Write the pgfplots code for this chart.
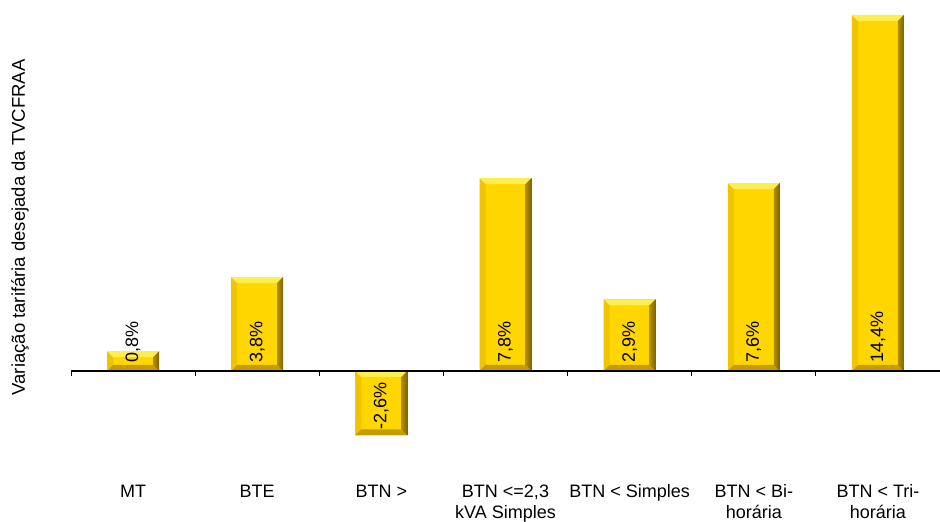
\documentclass[border=0pt]{standalone}
\usepackage{fontspec}
\setmainfont{Liberation Sans}
\usepackage{pgfplots}
\usepackage{pgfplotstable}
\pgfplotsset{compat=1.18}

\definecolor{barface}{RGB}{255,214,0}
\definecolor{bevtop}{RGB}{255,238,80}
\definecolor{bevleft}{RGB}{240,196,0}
\definecolor{bevbot}{RGB}{196,156,0}
\definecolor{bevmid}{RGB}{205,165,0}
\definecolor{bevdark}{RGB}{100,76,0}

\newcommand\ticklabelfont{\fontsize{18bp}{21bp}\selectfont}
\newcommand\datafont{\fontsize{18bp}{21bp}\selectfont}
\newcommand\labelfont{\fontsize{18.5bp}{21bp}\selectfont}

% tariff variation per customer group (%)
\pgfplotstableread{
x val
0 0.8
1 3.8
2 -2.6
3 7.8
4 2.9
5 7.6
6 14.4
}\variation

% bevelled bar face, drawn with the basic layer inside the bar's path picture
\pgfdeclarehorizontalshading{rightbevel}{100bp}{color(0bp)=(bevmid); color(100bp)=(bevdark)}
\newcommand\bvw{6bp}
\newcommand\bvquad[9]{%
  \begin{pgfscope}%
  \pgfpathmoveto{\pgfqpoint{#2}{#3}}%
  \pgfpathlineto{\pgfqpoint{#4}{#5}}%
  \pgfpathlineto{\pgfqpoint{#6}{#7}}%
  \pgfpathlineto{\pgfqpoint{#8}{#9}}%
  \pgfpathclose
  \ifx#1\relax
    \pgfshadepath{rightbevel}{0}\pgfusepath{}%
  \else
    \pgfsetfillcolor{#1}\pgfusepath{fill}%
  \fi
  \end{pgfscope}}
\newcommand\bevelface{%
  \pgfpointanchor{path picture bounding box}{south west}\pgfgetlastxy{\xa}{\ya}%
  \pgfpointanchor{path picture bounding box}{north east}\pgfgetlastxy{\xb}{\yb}%
  % left
  \bvquad{bevleft}{\xa}{\yb}{\xa}{\ya}{\dimexpr\xa+\bvw}{\dimexpr\ya+\bvw}{\dimexpr\xa+\bvw}{\dimexpr\yb-\bvw}%
  % bottom
  \bvquad{bevbot}{\xa}{\ya}{\xb}{\ya}{\dimexpr\xb-\bvw}{\dimexpr\ya+\bvw}{\dimexpr\xa+\bvw}{\dimexpr\ya+\bvw}%
  % top
  \bvquad{bevtop}{\xa}{\yb}{\xb}{\yb}{\dimexpr\xb-\bvw}{\dimexpr\yb-\bvw}{\dimexpr\xa+\bvw}{\dimexpr\yb-\bvw}%
  % right
  \bvquad{\relax}{\xb}{\yb}{\xb}{\ya}{\dimexpr\xb-\bvw}{\dimexpr\ya+\bvw}{\dimexpr\xb-\bvw}{\dimexpr\yb-\bvw}%
}

\begin{document}
\begin{tikzpicture}
\useasboundingbox (0,0) rectangle (940bp,522bp);
\begin{axis}[
  at={(71bp,62bp)}, anchor=south west,
  scale only axis,
  width=869bp, height=450bp,
  xmin=-0.5, xmax=6.5,
  ymin=-3.6, ymax=14.6,
  clip=false,
  axis line style={draw=none},
  tick style={draw=none},
  ytick=\empty,
  xtick={0,...,6},
  xticklabels={MT, BTE, BTN >, {BTN <=2,3\\kVA Simples}, BTN < Simples, {BTN < Bi-\\horária}, {BTN < Tri-\\horária}},
  xticklabel style={font=\ticklabelfont, align=center, anchor=north, yshift=-17bp},
  ylabel={Variação tarifária desejada da TVCFRAA},
  ylabel style={font=\labelfont, at={(axis description cs:-0.0587,0.517)}, anchor=center},
  /pgf/number format/assume math mode=true,
  ybar, bar width=52bp,
]
% one bar per category, each its own path so that every bar gets its own bevel
\pgfplotsinvokeforeach{0,...,6}{
  \addplot[fill=barface, draw=none, bar shift=0pt, path picture={\bevelface},
    restrict x to domain=#1:#1] table[x=x, y=val] {\variation};
}

% zero line with category separators
\draw[black, line width=1.6bp] (axis cs:-0.5,0) -- (axis cs:6.5,0);
\pgfplotsinvokeforeach{-0.5,0.5,1.5,2.5,3.5,4.5,5.5}{
  \draw[black, line width=0.8bp] (axis cs:#1,0) -- ([yshift=-5bp]axis cs:#1,0);
}

% value labels at the base of each bar
\addplot[draw=none, fill=none, bar shift=0pt, forget plot,
  skip coords between index={2}{3},
  point meta=explicit,
  nodes near coords={\pgfmathprintnumber[fixed, fixed zerofill, precision=1, use comma]{\pgfplotspointmeta}\%},
  every node near coord/.style={font=\datafont, rotate=90, anchor=west, inner sep=0pt, xshift=8bp, yshift=0bp},
] table[x=x, y expr=0, meta=val] {\variation};
\addplot[draw=none, fill=none, bar shift=0pt, forget plot,
  skip coords between index={0}{2},
  skip coords between index={3}{7},
  point meta=explicit,
  nodes near coords={\pgfmathprintnumber[fixed, fixed zerofill, precision=1, use comma]{\pgfplotspointmeta}\%},
  every node near coord/.style={font=\datafont, rotate=90, anchor=east, inner sep=0pt, xshift=-11bp},
] table[x=x, y expr=0, meta=val] {\variation};
\end{axis}
\end{tikzpicture}
\end{document}
